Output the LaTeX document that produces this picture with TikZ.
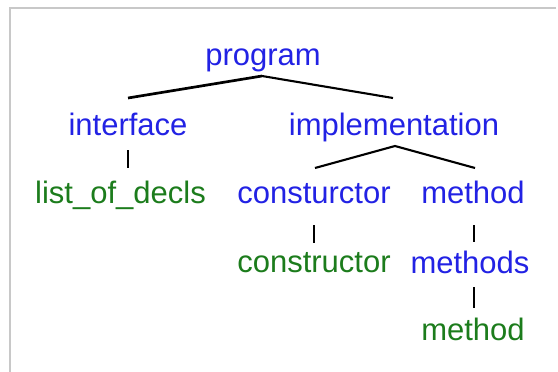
\documentclass[tikz,border=0pt]{standalone}
\usepackage{fontspec}
\setmainfont{Liberation Sans}
\usetikzlibrary{calc}
\definecolor{ntblue}{RGB}{34,34,228}
\definecolor{tmgreen}{RGB}{28,124,28}
\definecolor{framegray}{RGB}{200,200,200}
\begin{document}
\begin{tikzpicture}[x=1pt,y=-1pt,
  lbl/.style={anchor=base,inner sep=0pt,font=\fontsize{31}{36}\selectfont},
  nonterm/.style={lbl,text=ntblue},
  term/.style={lbl,text=tmgreen},
  branch/.style={draw=black,line width=2.1pt},
  thickbranch/.style={draw=black,line width=2.7pt},
  stem/.style={draw=black,line width=1.8pt}]
\useasboundingbox (0,0) rectangle (558,372);
% frame along the top and left edges
\draw[framegray,line width=2pt] (9.5,372) |- (556,7.5);

% tree labels
\node[nonterm] (prog)  at (263,65)   {program};
\node[nonterm] (intf)  at (128,135)  {interface};
\node[nonterm] (impl)  at (394,135)  {implementation};
\node[term]    (decls) at (120.5,203){list\_of\_decls};
\node[nonterm] (cons)  at (314,203)  {consturctor};
\node[nonterm] (meth)  at (473,203)  {method};
\node[term]    (ctor)  at (314,272)  {constructor};
\node[nonterm] (meths) at (470,273)  {methods};
\node[term]    (mth)   at (473,340)  {method};

% branches
\draw[thickbranch] ($(intf.base)+(0,-37)$) -- ($(prog.base)+(-1,11)$);
\draw[branch] ($(prog.base)+(-1,11)$) -- ($(impl.base)+(-1,-37)$);
\draw[branch] ($(cons.base)+(1,-35)$) -- ($(impl.base)+(1,11)$) -- ($(meth.base)+(2,-35)$);
\draw[stem] ($(intf.base)+(0,15)$) -- ($(intf.base |- decls.base)+(0,-35)$);
\draw[stem] ($(cons.base)+(0,22)$) -- ($(ctor.base)+(0,-29)$);
\draw[stem] ($(meth.base)+(1,22)$) -- ($(meth.base |- meths.base)+(1,-31)$);
\draw[stem] ($(meths.base)+(4,14)$) -- ($(meths.base |- mth.base)+(4,-32)$);
\end{tikzpicture}
\end{document}
